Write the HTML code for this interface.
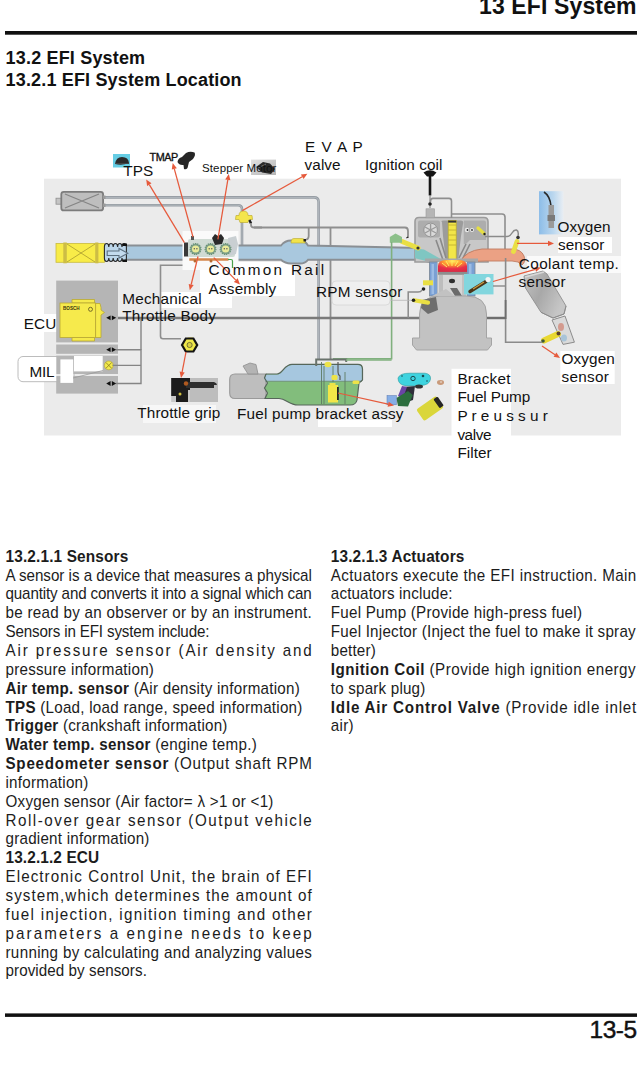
<!DOCTYPE html>
<html><head><meta charset="utf-8"><style>
html,body{margin:0;padding:0;background:#fff;width:642px;height:1078px;overflow:hidden}
svg{display:block}
text{font-family:"Liberation Sans",sans-serif}
</style></head><body>
<svg width="642" height="1078" viewBox="0 0 642 1078">
<rect width="642" height="1078" fill="#fff"/>
<text x="479" y="13.8" font-size="23" font-weight="bold" fill="#111" textLength="157.5" lengthAdjust="spacing">13 EFI System</text>
<rect x="5" y="31" width="632" height="3.7" fill="#111"/>
<text x="5.6" y="64.3" font-size="18" font-weight="bold" fill="#111" textLength="139.5" lengthAdjust="spacing">13.2 EFI System</text>
<text x="5.6" y="85.6" font-size="18" font-weight="bold" fill="#111" textLength="236" lengthAdjust="spacing">13.2.1 EFI System Location</text>
<!-- diagram background -->
<rect x="44" y="178.7" width="577" height="256.8" fill="#ebebeb"/>
<!-- white label patches -->
<rect x="10" y="314" width="50" height="18" fill="#fff"/>
<rect x="451.5" y="368.8" width="59.5" height="70" fill="#fff"/>
<rect x="560.3" y="351" width="54.4" height="33" fill="#fff"/>
<rect x="558" y="237" width="54" height="16" fill="#fff"/>
<rect x="527" y="256" width="94" height="17" fill="#fafafa"/>
<rect x="200" y="262" width="95" height="34" fill="#fff"/>
<rect x="160" y="292" width="72" height="16" fill="#fff"/>
<rect x="143" y="405" width="73" height="18" fill="#f7f7f7"/>
<rect x="318" y="420" width="74" height="7" fill="#fff"/>

<!-- pipes (gray tubes) -->
<g fill="none" stroke-linejoin="round">
  <path d="M104 197.4 H314 Q318.6 197.4 318.6 202 V360" stroke="#959ca3" stroke-width="2.6"/>
  <path d="M104 205.2 H238 Q242 205.2 242 209 V246" stroke="#959ca3" stroke-width="2.6"/>
  <path d="M104 197.4 H314 Q318.6 197.4 318.6 202 V360" stroke="#b9bfc4" stroke-width="0.8"/>
  <path d="M104 205.2 H238 Q242 205.2 242 209 V246" stroke="#b9bfc4" stroke-width="0.8"/>
</g>
<g fill="none" stroke="#8f8f8f" stroke-width="1.8">
  <path d="M254 227.5 H405 Q408 227.5 408 231 V238"/>
  <path d="M308.7 227.5 V236 Q308.7 240 304 240"/>
  <path d="M330.5 227.5 V360"/>
</g>
<!-- canister -->
<rect x="56" y="198.2" width="5.5" height="6" fill="#c4c4c4" stroke="#909090" stroke-width="0.8"/>
<rect x="61.3" y="191.8" width="41.8" height="18.6" rx="2.5" fill="#bebebe" stroke="#7c7c7c" stroke-width="1.8"/>
<path d="M65 194 L99 208 M65 208 L99 194" stroke="#858585" stroke-width="1.3"/>
<rect x="103" y="195.5" width="2.5" height="3.5" fill="#9a9a9a"/>
<rect x="103" y="203.5" width="2.5" height="3.5" fill="#9a9a9a"/>

<!-- intake pipe -->
<path d="M120 245.5 H281 Q285 240.5 291 240.5 H300 Q305 240.5 308 245.5 L420 248 L446 262 L430 262 L420 259.8 L308 259.8 Q305 263.5 300 263.5 H291 Q285 263.5 281 259.8 H120 Z" fill="#a9c8de" stroke="#8a8f94" stroke-width="1.9"/>
<!-- air filter -->
<rect x="56" y="243.4" width="48.4" height="18.9" fill="#f8ec48" stroke="#c8bb40" stroke-width="0.8"/>
<rect x="63.3" y="242.5" width="3.5" height="20.8" fill="#cdbd45"/>
<rect x="95.2" y="242.5" width="3.2" height="20.8" fill="#cdbd45"/>
<path d="M67 244 L95 262 M67 262 L95 244" stroke="#a89a30" stroke-width="0.8"/>
<!-- bellows -->
<path d="M104.4 247 c0 -4.6 4.4 -4.6 4.4 0 c0 -4.6 4.4 -4.6 4.4 0 c0 -4.6 4.4 -4.6 4.4 0 c0 -4.6 4.4 -4.6 4.4 0 c0 -4.6 4.4 -4.6 4.4 0 V258 c0 4.6 -4.4 4.6 -4.4 0 c0 4.6 -4.4 4.6 -4.4 0 c0 4.6 -4.4 4.6 -4.4 0 c0 4.6 -4.4 4.6 -4.4 0 c0 4.6 -4.4 4.6 -4.4 0 Z" fill="#bcd6ea" stroke="#2a2a2a" stroke-width="1.1"/>
<rect x="122.5" y="243.5" width="4.5" height="2.5" fill="#111"/>
<rect x="122.5" y="259.5" width="4.5" height="2.5" fill="#111"/>
<path d="M107.2 251 H119 V248.5 L127.8 253.2 L119 258 V255.5 H107.2 Z" fill="#c3dbee" stroke="#5d7080" stroke-width="1.1"/>

<!-- throttle body assembly -->
<rect x="182.5" y="231" width="56" height="39" fill="#fafafa"/>
<rect x="184" y="242.5" width="4.5" height="14" fill="#3a3a3a"/>
<rect x="188" y="239" width="47" height="18" rx="2" fill="#d0dbd4"/>
<path d="M228 238 L236 236 L238 244 L236 254 L229 256 Z" fill="#c9cfd2"/>
<g fill="#7c9e88" stroke="#6a9478" stroke-width="1.2" stroke-dasharray="1.2 1">
<circle cx="195.6" cy="249" r="5.4"/><circle cx="210.5" cy="249" r="5.4"/><circle cx="225.6" cy="249" r="5.4"/>
</g>
<g fill="#e9eb98">
<circle cx="195.6" cy="249" r="3.6"/><circle cx="210.5" cy="249" r="3.6"/><circle cx="225.6" cy="249" r="3.6"/>
</g>
<g fill="#555">
<circle cx="194.3" cy="248.7" r="0.7"/><circle cx="196.9" cy="248.7" r="0.7"/>
<circle cx="209.2" cy="248.7" r="0.7"/><circle cx="211.8" cy="248.7" r="0.7"/>
<circle cx="224.3" cy="248.7" r="0.7"/><circle cx="226.9" cy="248.7" r="0.7"/>
</g>
<path d="M212 238 L215 234 L218 236 L221 234 L224 238 L222 244 L215 245 Z" fill="#2a2a2a"/>
<rect x="191" y="236" width="3" height="4" fill="#555"/>
<path d="M189.3 258.2 H228.5 V260.8 H189.3 Z" fill="#d4874c"/>
<circle cx="195" cy="261" r="1.5" fill="#b86a30"/><circle cx="211" cy="261" r="1.5" fill="#b86a30"/>
<path d="M228 259.5 H231 Q232.5 259.5 232.5 261 V268" stroke="#4aa04a" stroke-width="1.2" fill="none"/>

<!-- EVAP valve -->
<path d="M239 215.5 Q239 211 243.5 211 Q248 211 248 215.5 H252 L252.5 219.5 H249 L248 222.5 H240 L239 219.5 H235.5 L236 215.5 Z" fill="#f4e54c" stroke="#bfae34" stroke-width="0.7"/>
<path d="M249.5 220 L251 223.5" stroke="#1e1e1e" stroke-width="2.4"/><path d="M251 223 V225 Q251 227.5 254 227.5 H262" stroke="#8f8f8f" stroke-width="1.8" fill="none"/>
<!-- rail injector -->
<path d="M291 243 Q291 238.5 294 238.5 H302 Q305 238.5 305 241 V243 Z" fill="#f1e34a" stroke="#b9a930" stroke-width="0.6"/><rect x="303.5" y="239" width="2.5" height="2.5" fill="#222"/>

<!-- cylinder head -->
<path d="M419 217.5 Q415 217.5 415 221.5 V262 H488 V221.5 Q488 217.5 484 217.5 Z" fill="#c8c8c8" stroke="#9c9c9c" stroke-width="1.6"/>
<rect x="426" y="208.8" width="8.5" height="9" fill="#b5b5b5" stroke="#9a9a9a" stroke-width="0.6"/>
<path d="M430 171 V195.5" stroke="#151515" stroke-width="2.6"/>
<path d="M423.5 172.5 Q430 168 436.5 172.5 L433 176.5 H427 Z" fill="#151515"/>
<path d="M430 196 V208" stroke="#777" stroke-width="1"/>
<circle cx="430" cy="204" r="1.8" fill="#222"/>
<path d="M430.5 202 V201 Q430.5 198.4 433 198.4 H449 Q451.5 198.4 451.5 201 V218" stroke="#8e8e8e" stroke-width="1.6" fill="none"/>
<path d="M452 214 H502 Q505 214 505 217 V250" stroke="#8e8e8e" stroke-width="1.6" fill="none"/>
<rect x="418" y="220.6" width="22" height="17" rx="2" fill="#adadad"/>
<circle cx="430.6" cy="230" r="6.8" fill="#d9d9d9" stroke="#8c8c8c" stroke-width="0.8"/>
<path d="M430.6 224 V236 M425 227 L436 233 M425 233 L436 227" stroke="#9a9a9a" stroke-width="1.3"/>
<path d="M463.75 220.6 H484 Q486 220.6 486 222.6 V240 H470 L466 244 H463.75 Z" fill="#adadad"/>
<path d="M442 222 Q440 220.6 444 220.6 H447 Q452 222 457 220.6 H461 Q464 220.6 463 224 L461 236 L458 262 H446 L443 236 Z" fill="#9c9c9c"/>
<path d="M440 238 L446 258 M436 240 L443 260 M466 244 L459 258 M470 244 L462 260" stroke="#8a8a8a" stroke-width="1.6"/>
<circle cx="467" cy="230" r="2.2" fill="#e8e8e8"/><circle cx="472" cy="230" r="2" fill="#e8e8e8"/>
<circle cx="467.5" cy="230" r="0.9" fill="#333"/><circle cx="472" cy="230" r="0.9" fill="#333"/>
<path d="M478 228 L484 233.5" stroke="#e6df42" stroke-width="3.2" stroke-linecap="round"/>
<circle cx="484.5" cy="234" r="1.2" fill="#222"/>
<path d="M485 236.5 H507 Q510 236.5 512 233 Q514 229.5 516.5 230 Q519 231 518 236" stroke="#8a8a8a" stroke-width="1.5" fill="none"/>
<rect x="448.2" y="220.6" width="8" height="39" fill="#f2e648" stroke="#b9a92c" stroke-width="0.7"/>
<path d="M448.2 225 H456.2 M448.2 230 H456.2 M448.2 235 H456.2 M448.2 240 H456.2 M448.2 245 H456.2" stroke="#c2b232" stroke-width="0.9"/>
<rect x="448.2" y="220.6" width="8" height="2" fill="#333"/>
<!-- intake channel in head -->
<path d="M415 248.5 L424 249.5 L446 262 H430 L415 258.2 Z" fill="#7fc6c2"/>
<!-- intake injector -->
<path d="M402 241.5 L418 248" stroke="#e9df44" stroke-width="5" stroke-linecap="round"/>
<circle cx="418" cy="248" r="1.6" fill="#333"/>
<path d="M389.8 242.8 V237 L395.5 233.4 L402 237 V242.8 Z" fill="#8cc08a"/>
<path d="M407.5 238 L407 237" stroke="#222" stroke-width="2"/>
<path d="M391.6 242 V358.8 H333" stroke="#80b07e" stroke-width="1.6" fill="none"/>
<!-- exhaust pipe -->
<path d="M460 262 Q466 250.5 482 249 H512 Q521 249 524 256 Q526 262 522 265 Q519 261 512 261 H486 Q476 261 472 262 Z" fill="#eba184" stroke="#c07a60" stroke-width="0.9"/>
<!-- cylinder -->
<rect x="425" y="258.5" width="53" height="3.5" fill="#a8a8a8"/>
<rect x="429.4" y="262" width="8.1" height="34" fill="#7aa0d4" stroke="#7c8794" stroke-width="0.8"/>
<rect x="466.9" y="262" width="8.1" height="34" fill="#7aa0d4" stroke="#7c8794" stroke-width="0.8"/>
<rect x="431.5" y="264" width="2.5" height="30" fill="#9dbce4"/>
<rect x="469" y="264" width="2.5" height="30" fill="#9dbce4"/>
<rect x="437.5" y="262" width="29.4" height="34" fill="#e4e4e4"/>
<defs><radialGradient id="fire" cx="0.5" cy="0.1" r="0.9"><stop offset="0" stop-color="#fff060"/><stop offset="0.35" stop-color="#ff9a30"/><stop offset="0.7" stop-color="#e8304a"/><stop offset="1" stop-color="#d82a44"/></radialGradient></defs>
<path d="M438 271.9 V266 Q438 260 446 260 H459 Q467 260 467 266 V271.9 Z" fill="url(#fire)"/>
<path d="M452 260 V266 M446 261 L449 266 M458 261 L455 266 M442 263 L447 267 M462 263 L457 267" stroke="#ffe860" stroke-width="1"/>
<rect x="438" y="271.9" width="29" height="3" fill="#8e8e8e"/>
<rect x="438" y="274.9" width="29" height="21" fill="#d6d6d6"/>
<rect x="439" y="275" width="4" height="21" fill="#bdbdbd"/>
<rect x="462" y="275" width="4" height="21" fill="#c2c2c2"/>
<ellipse cx="452" cy="281" rx="3" ry="2.2" fill="#2e2e2e"/>
<path d="M450 288 L455 296 H462 L457 288 Z" fill="#6a6a6a"/>
<path d="M116 318 H505" stroke="#7a7a7a" stroke-width="2.6"/>
<!-- crankcase -->
<path d="M419.6 338 V314 Q419.6 296 440 296 H466 Q486.5 296 486.5 314 V338 H491.5 V345 L487.5 350 H416.5 L412.5 345 V338 Z" fill="#c2c2c2" stroke="#a4a4a4" stroke-width="1"/>
<path d="M432 296 L446 289 L455 296 Z" fill="#c2c2c2"/>
<!-- coolant sensor photo -->
<rect x="464" y="274" width="29.5" height="20.4" fill="#82d6de"/>
<path d="M470 291.5 L486 281.5" stroke="#4a3418" stroke-width="3.4" stroke-linecap="round"/>
<path d="M473 289 L484 282" stroke="#c89a40" stroke-width="1.4"/>
<circle cx="488" cy="279.5" r="2.6" fill="#f4f4f4"/>
<!-- RPM sensors -->
<path d="M423 282.8 H433" stroke="#e9df44" stroke-width="5"/>
<circle cx="423.5" cy="289" r="1.8" fill="#222"/>
<path d="M422 290 Q421 292.1 418 292.1 H408.2 V318" stroke="#8a8a8a" stroke-width="1.5" fill="none"/>
<path d="M390 300.3 H413" stroke="#b5b5b5" stroke-width="0.8"/>
<path d="M422 300 L436 297 L438 310 L428 314 L421 308 Z" fill="#6e6e6e"/>
<path d="M414 300.3 L428 302.6" stroke="#e9df44" stroke-width="4.2" stroke-linecap="round"/>
<circle cx="413.5" cy="300.3" r="1.8" fill="#222"/>
<rect x="332" y="281" width="58" height="24" rx="4" fill="#efefef" stroke="#d6d6d6" stroke-width="0.8"/>
<!-- catalytic converter -->
<defs>
<linearGradient id="cat" x1="0" y1="0" x2="1" y2="0.5"><stop offset="0" stop-color="#c4c4c4"/><stop offset="0.5" stop-color="#a8a8a8"/><stop offset="1" stop-color="#c6c6c6"/></linearGradient>
<linearGradient id="o2" x1="0" y1="0" x2="1" y2="0"><stop offset="0" stop-color="#8dbde8"/><stop offset="0.6" stop-color="#bcd8ef"/><stop offset="1" stop-color="#e9eef3"/></linearGradient>
</defs>
<path d="M524 276 L543 271 L547 274 L566 306 L564 314 L553 318 L541 312.3 L525.5 288 Z" fill="url(#cat)" stroke="#8e8e8e" stroke-width="0.9"/>
<path d="M541 312.3 L553 318 L564 314 L566 306" fill="none" stroke="#8a8a8a" stroke-width="0.9"/>
<path d="M525 277 L544 272" stroke="#d8d8d8" stroke-width="1.5"/>
<path d="M552 320 L565 316 L574.4 342.2 L563 344.4 Z" fill="#dadada" stroke="#8c8c8c" stroke-width="1"/>
<ellipse cx="561" cy="327" rx="3" ry="4" fill="#d39a8e"/>
<ellipse cx="564" cy="338" rx="3" ry="3.5" fill="#a8c4d8"/>
<path d="M544 340.5 L558 334" stroke="#e9d832" stroke-width="6" stroke-linecap="round"/>
<circle cx="543" cy="341" r="1.8" fill="#3c5a3c"/>
<circle cx="558.5" cy="333.5" r="2" fill="#5a4030"/>
<path d="M505.6 258 V342.2 H542" stroke="#8a8a8a" stroke-width="1.6" fill="none"/><path d="M493 286 H505.6" stroke="#8a8a8a" stroke-width="1.4"/>
<!-- upper oxygen sensor -->
<path d="M517 241.5 L513.5 251.5" stroke="#e9df44" stroke-width="4.8" stroke-linecap="round"/>
<circle cx="518" cy="237.5" r="1.8" fill="#333"/>
<!-- oxygen photo -->
<rect x="539" y="191.2" width="24.5" height="43.2" fill="url(#o2)"/>
<path d="M544 192 Q550 196 551 206" stroke="#2a2a2a" stroke-width="1.6" fill="none"/>
<rect x="548.5" y="205" width="5.5" height="23" fill="#9a9a9a"/>
<rect x="547.5" y="215" width="7.5" height="6" fill="#7a7a7a"/>

<!-- ECU column -->
<rect x="56.2" y="280.6" width="61.8" height="61.8" fill="#b5b5b5"/>
<rect x="56.2" y="344.5" width="61.8" height="9.3" fill="#b5b5b5"/>
<rect x="56.2" y="355.6" width="61.8" height="18.4" fill="#b5b5b5"/>
<rect x="56.2" y="376" width="61.8" height="17.6" fill="#b5b5b5"/>
<g fill="#f6ea4c" stroke="#b9a832" stroke-width="0.8">
<path d="M72 299.5 H94.5 V303 H72 Z"/>
<path d="M72 337.5 H94.5 V341 H72 Z"/>
<path d="M95.6 303.5 H100 L101 307.5 V310 L104.5 312.5 L101 315 V337.5 H95.6 Z"/>
<rect x="60" y="303" width="35.6" height="34.5"/>
</g>
<text x="63" y="310.3" font-size="4.6" font-weight="bold" fill="#3a3510">BOSCH</text>
<circle cx="90.5" cy="309.3" r="2" fill="none" stroke="#5a5020" stroke-width="0.8"/>
<g fill="#111">
<path d="M106.2 317.8 L110.6 315.4 V320.2 Z M116.2 317.8 L111.8 315.4 V320.2 Z"/>
<path d="M106.2 349.7 L110.6 347.3 V352.1 Z M116.2 349.7 L111.8 347.3 V352.1 Z"/>
<path d="M106.2 383.5 L110.6 381.1 V385.9 Z M116.2 383.5 L111.8 381.1 V385.9 Z"/>
</g>
<!-- MIL -->
<path d="M56.2 356.5 H23 Q18 356.5 18 361.5 V376.7 Q18 381.7 23 381.7 H56.2 Z" fill="#fff"/><rect x="18" y="356.5" width="56" height="25.2" rx="5" fill="none" stroke="#b4b4b4" stroke-width="0.9"/>
<rect x="60.4" y="359.4" width="12.8" height="23.5" fill="#fff"/>
<rect x="74" y="356" width="28.7" height="15.4" fill="#fff"/>
<path d="M73 378 L103 370.5" stroke="#9a9a9a" stroke-width="0.8"/>
<circle cx="108.8" cy="365.4" r="4.4" fill="#f2ea4c" stroke="#b5a530" stroke-width="0.6"/><path d="M105.9 362.5 L111.7 368.3 M111.7 362.5 L105.9 368.3" stroke="#8a7a20" stroke-width="0.8"/>
<!-- ECU lines -->

<path d="M116 349.7 H141 V383.5 H116 M112.5 365.4 H141" stroke="#858585" stroke-width="1.4" fill="none"/>
<path d="M141 349.7 V318" stroke="#858585" stroke-width="1.4"/>
<path d="M182.5 265.2 H160.5 V336 Q160.5 338.7 163 338.7 H181" stroke="#8e8e8e" stroke-width="1.6" fill="none"/>
<path d="M487 318 H505.6 V300" stroke="#6e6e6e" stroke-width="1.8" fill="none"/>

<!-- hex TPS -->
<path d="M181.5 339.5 H186 L188 337.5 H193 V339.5" fill="#e9e448"/>
<path d="M182 345 L185.8 338.5 H193.4 L197.2 345 L193.4 351.5 H185.8 Z" fill="#efe84a" stroke="#141414" stroke-width="2.2"/>
<circle cx="189.6" cy="345" r="2.6" fill="#d8d040" stroke="#333" stroke-width="0.6"/>
<!-- throttle grip -->
<rect x="171.2" y="378" width="46.8" height="24" fill="#c8c8c8"/>
<rect x="190" y="378" width="28" height="24" fill="#bdbdbd"/>
<path d="M171.2 378 H190 V390 H188 V402 H176 V396 H171.2 Z" fill="#1c1c1c"/>
<path d="M186 382 H214 Q217 383 217 385 H214 V388 H186 Z" fill="#2e2e2e"/>
<circle cx="186" cy="383.5" r="2.2" fill="#b05a20"/>
<circle cx="180" cy="394" r="1.5" fill="#d0c040"/>

<!-- fuel tank -->
<path d="M235 374 H266 V398.5 H235 Q229.7 398.5 229.7 393 V379.5 Q229.7 374 235 374 Z" fill="#bebebe" stroke="#9a9a9a" stroke-width="1.1"/>
<path d="M243 366 L250 363 L256 364.5 L258 374 H248 Z" fill="#b4b4b4" stroke="#8e8e8e" stroke-width="0.8"/>
<path d="M266 374 H277 C283 374 284 364.4 292 364.4 H358 Q362.5 364.4 362.5 369 V380 L359 383 L357 400 Q356 405 350 405 H298 C289 405 286 398.5 279 398.5 H265 L267.5 393 L264.5 388 L267.5 383 L264.5 378 Z" fill="#82bd7c"/>
<path d="M266.3 374.6 H277 C283 374.6 284 365 292 365 H358 Q361.9 365 361.9 369 V381.25 H265.5 L264.5 378 Z" fill="#a6c7df"/>
<path d="M265.5 381.25 H362" stroke="#6c8a70" stroke-width="0.8"/>
<path d="M266 374 H277 C283 374 284 364.4 292 364.4 H358 Q362.5 364.4 362.5 369 V380 L359 383 L357 400 Q356 405 350 405 H298 C289 405 286 398.5 279 398.5 H265 L267.5 393 L264.5 388 L267.5 383 L264.5 378 L266 374" fill="none" stroke="#56665a" stroke-width="1.2"/>
<path d="M316.2 366 V359.6 H346.2 V362" stroke="#6a736c" stroke-width="2" fill="none"/>
<path d="M346 360 H391.6" stroke="#80b07e" stroke-width="1.6"/>
<path d="M321.5 362 V404 M324 366 V404 M333 366 V382 M345 372 V404" stroke="#5e7a62" stroke-width="0.9" fill="none"/>
<path d="M338 362 V372 Q338 375 340 376 V380" stroke="#555" stroke-width="1.2" fill="none"/>
<ellipse cx="328" cy="364.5" rx="3.5" ry="2.8" fill="#ede348"/>
<rect x="331.5" y="375" width="6" height="5" rx="1.5" fill="#ede348"/>
<rect x="352.5" y="380.5" width="7" height="3.5" rx="1.5" fill="#ede348"/>
<rect x="328" y="385" width="10" height="17.5" fill="#f2e648"/>
<rect x="329.5" y="383" width="6" height="3" fill="#ede348"/>
<rect x="337" y="387" width="1.8" height="13" fill="#222"/>
<!-- bracket parts -->
<path d="M403 387 L415 386 L413 400 L404 403 Z" fill="#2e2e3a"/>
<path d="M398 396 L402 386 L407 387 L403 398 Z" fill="#6a44a6"/>
<path d="M396.4 398 L408 391 L412.7 395 L408 406.4 L398 406 Z" fill="#2c6e3e"/>
<rect x="387" y="395.5" width="9.4" height="9.3" fill="#86aee6" stroke="#5a78b0" stroke-width="0.5"/>
<path d="M398 378 Q400 373 410 373.2 H425 Q431 374 430.5 379 Q430 385 420 385.7 H406 Q398 385 398 378 Z" fill="#3ed3df" stroke="#2a9aa0" stroke-width="0.6"/>
<circle cx="413" cy="378.5" r="2.2" fill="none" stroke="#1a4a50" stroke-width="1"/>
<circle cx="423" cy="376" r="1.3" fill="#1a4a50"/>
<circle cx="402" cy="376" r="0.8" fill="#1a4a50"/><circle cx="427" cy="381" r="0.8" fill="#1a4a50"/>
<ellipse cx="419" cy="386.5" rx="4" ry="2" fill="#333"/>
<ellipse cx="440.5" cy="382.5" rx="3.5" ry="2.4" fill="#c99a7a"/>
<ellipse cx="441" cy="382" rx="1.2" ry="0.7" fill="#e8d8c8"/>
<g transform="rotate(-35 430 408.5)"><rect x="418" y="401.5" width="24" height="14" rx="2" fill="#dad63a"/><rect x="438" y="403" width="5" height="11" rx="1" fill="#262626"/></g>

<!-- arrows -->
<g stroke="#e65a3c" stroke-width="1.25" fill="none">
<path d="M184.4 242.6 L149.3 184.6"/>
<path d="M193.0 237.0 L174.3 168.9"/>
<path d="M217.9 239.4 L227.8 179.9"/>
<path d="M242.3 210.6 L302.2 176.7"/>
<path d="M213.8 257.6 L235.8 280.1"/>
<path d="M198.0 256.5 L191.2 284.5"/>
<path d="M186.0 352.0 L182.1 372.1"/>
<path d="M338.0 393.0 L388.1 404.2"/>
<path d="M517.0 243.4 L548.0 243.4"/>
<path d="M493.0 281.5 L535.3 269.3"/>
<path d="M542.0 346.0 L555.0 354.7"/>
</g>
<g fill="#e65a3c">
<path d="M146.2 179.5 L151.5 183.3 L147.1 186.0 Z"/>
<path d="M172.7 163.1 L176.8 168.2 L171.8 169.6 Z"/>
<path d="M228.8 174.0 L230.4 180.3 L225.2 179.5 Z"/>
<path d="M307.4 173.7 L303.5 178.9 L300.9 174.4 Z"/>
<path d="M240.0 284.4 L233.9 281.9 L237.7 278.3 Z"/>
<path d="M189.8 290.3 L188.7 283.9 L193.7 285.1 Z"/>
<path d="M181.0 378.0 L179.6 371.6 L184.7 372.6 Z"/>
<path d="M394.0 405.5 L387.6 406.7 L388.7 401.7 Z"/>
<path d="M554.0 243.4 L548.0 246.0 L548.0 240.8 Z"/>
<path d="M541.0 267.5 L536.1 271.8 L534.5 266.9 Z"/>
<path d="M560.0 358.0 L553.6 356.8 L556.4 352.5 Z"/>
</g>

<!-- top icons -->
<rect x="113" y="154" width="17" height="13.5" fill="#66cde4"/>
<path d="M115 164 Q116 157 122 157 Q128.5 157 129 163 Q122 166 115 164 Z" fill="#2a2a2a"/>
<path d="M115 163.5 H129" stroke="#444" stroke-width="1"/>
<path d="M177.5 162 Q178 158 182 157 L186 153 Q190 151 194.5 152.5 Q196 155 193 159 L189 162 L187.5 168 Q186 170 184 169 L183.5 165 Q179 165.5 177.5 162 Z" fill="#262626"/>
<defs><linearGradient id="stp" x1="0" y1="0" x2="1" y2="1"><stop offset="0" stop-color="#e2e2e2"/><stop offset="1" stop-color="#b4b4b4"/></linearGradient></defs>
<rect x="251" y="159.6" width="25" height="15.4" fill="url(#stp)"/>
<path d="M256 167 L263 162 L270 163.5 L275 169 L271 174 L262 172.5 Z" fill="#2a2a2a"/><path d="M258 168 L266 164" stroke="#777" stroke-width="1"/>

<!-- labels -->
<g fill="#111" font-size="15.3">
  <text x="123.3" y="176.2" textLength="30" lengthAdjust="spacing">TPS</text>
  <text x="149.5" y="160.6" font-size="10.8" stroke="#111" stroke-width="0.35" textLength="28.8" lengthAdjust="spacing">TMAP</text>
  <text x="202" y="172.4" font-size="11.5" textLength="74.4" lengthAdjust="spacing">Stepper Motor</text>
  <text x="305" y="151.6" textLength="57.8" lengthAdjust="spacing">E V A P</text>
  <text x="304.6" y="170.4" textLength="36" lengthAdjust="spacing">valve</text>
  <text x="365" y="169.9" textLength="77.4" lengthAdjust="spacing">Ignition coil</text>
  <text x="557.5" y="231.7" textLength="53" lengthAdjust="spacing">Oxygen</text>
  <text x="558" y="250" textLength="46.4" lengthAdjust="spacing">sensor</text>
  <text x="518.8" y="268.6" textLength="100" lengthAdjust="spacing">Coolant temp.</text>
  <text x="518.6" y="287.4" textLength="47" lengthAdjust="spacing">sensor</text>
  <text x="208.6" y="274.8" textLength="115.6" lengthAdjust="spacing">Common Rail</text>
  <text x="208.6" y="293.5" textLength="67.6" lengthAdjust="spacing">Assembly</text>
  <text x="316" y="297" textLength="86.3" lengthAdjust="spacing">RPM sensor</text>
  <text x="122.3" y="304.3" textLength="79.3" lengthAdjust="spacing">Mechanical</text>
  <text x="122.3" y="321.4" textLength="93.6" lengthAdjust="spacing">Throttle Body</text>
  <text x="23.8" y="329.3" textLength="32.4" lengthAdjust="spacing">ECU</text>
  <text x="29.5" y="377.4" textLength="25" lengthAdjust="spacing">MIL</text>
  <text x="137.3" y="418.1" textLength="83" lengthAdjust="spacing">Throttle grip</text>
  <text x="237" y="418.7" textLength="166.5" lengthAdjust="spacing">Fuel pump bracket assy</text>
  <text x="457.4" y="383.5" textLength="53" lengthAdjust="spacing">Bracket</text>
  <text x="457.4" y="402.3" textLength="72.8" lengthAdjust="spacing">Fuel Pump</text>
  <text x="457.4" y="421.2" textLength="90.4" lengthAdjust="spacing">P r e u s s u r</text>
  <text x="457.4" y="439.5" textLength="34" lengthAdjust="spacing">valve</text>
  <text x="457.4" y="458.3" textLength="34.2" lengthAdjust="spacing">Filter</text>
  <text x="561.5" y="363.8" textLength="53.3" lengthAdjust="spacing">Oxygen</text>
  <text x="561.6" y="382.1" textLength="47.2" lengthAdjust="spacing">sensor</text>
</g>

<g fill="#1c1c1c">
<text transform="translate(5.50 561.70) scale(0.95 1)" x="0" y="0" font-size="16.20" textLength="129.3" lengthAdjust="spacing"><tspan font-weight="bold">13.2.1.1 Sensors</tspan></text>
<text transform="translate(5.50 580.55) scale(0.95 1)" x="0" y="0" font-size="15.99" textLength="322.4" lengthAdjust="spacing">A sensor is a device that measures a physical</text>
<text transform="translate(5.50 599.40) scale(0.95 1)" x="0" y="0" font-size="15.99" textLength="322.4" lengthAdjust="spacing">quantity and converts it into a signal which can</text>
<text transform="translate(5.50 618.25) scale(0.95 1)" x="0" y="0" font-size="15.99" textLength="322.4" lengthAdjust="spacing">be read by an observer or by an instrument.</text>
<text transform="translate(5.50 637.10) scale(0.95 1)" x="0" y="0" font-size="15.99" textLength="214.7" lengthAdjust="spacing">Sensors in EFI system include:</text>
<text transform="translate(5.50 655.95) scale(0.95 1)" x="0" y="0" font-size="15.99" textLength="322.4" lengthAdjust="spacing">Air pressure sensor (Air density and</text>
<text transform="translate(5.50 674.80) scale(0.95 1)" x="0" y="0" font-size="15.99" textLength="156.2" lengthAdjust="spacing">pressure information)</text>
<text transform="translate(5.50 693.65) scale(0.95 1)" x="0" y="0" font-size="15.99" textLength="309.8" lengthAdjust="spacing"><tspan font-weight="bold">Air temp. sensor</tspan> (Air density information)</text>
<text transform="translate(5.50 712.50) scale(0.95 1)" x="0" y="0" font-size="15.99" textLength="312.5" lengthAdjust="spacing"><tspan font-weight="bold">TPS</tspan> (Load, load range, speed information)</text>
<text transform="translate(5.50 731.35) scale(0.95 1)" x="0" y="0" font-size="15.99" textLength="233.6" lengthAdjust="spacing"><tspan font-weight="bold">Trigger</tspan> (crankshaft information)</text>
<text transform="translate(5.50 750.20) scale(0.95 1)" x="0" y="0" font-size="15.99" textLength="264.5" lengthAdjust="spacing"><tspan font-weight="bold">Water temp. sensor</tspan> (engine temp.)</text>
<text transform="translate(5.50 769.05) scale(0.95 1)" x="0" y="0" font-size="15.99" textLength="322.4" lengthAdjust="spacing"><tspan font-weight="bold">Speedometer sensor</tspan> (Output shaft RPM</text>
<text transform="translate(5.50 787.90) scale(0.95 1)" x="0" y="0" font-size="15.99" textLength="87.2" lengthAdjust="spacing">information)</text>
<text transform="translate(5.50 806.75) scale(0.95 1)" x="0" y="0" font-size="15.99" textLength="282.0" lengthAdjust="spacing">Oxygen sensor (Air factor= λ &gt;1 or &lt;1)</text>
<text transform="translate(5.50 825.60) scale(0.95 1)" x="0" y="0" font-size="15.99" textLength="322.4" lengthAdjust="spacing">Roll-over gear sensor (Output vehicle</text>
<text transform="translate(5.50 844.45) scale(0.95 1)" x="0" y="0" font-size="15.99" textLength="151.5" lengthAdjust="spacing">gradient information)</text>
<text transform="translate(5.50 863.30) scale(0.95 1)" x="0" y="0" font-size="16.20" textLength="98.6" lengthAdjust="spacing"><tspan font-weight="bold">13.2.1.2 ECU</tspan></text>
<text transform="translate(5.50 882.15) scale(0.95 1)" x="0" y="0" font-size="15.99" textLength="322.4" lengthAdjust="spacing">Electronic Control Unit, the brain of EFI</text>
<text transform="translate(5.50 901.00) scale(0.95 1)" x="0" y="0" font-size="15.99" textLength="322.4" lengthAdjust="spacing">system,which determines the amount of</text>
<text transform="translate(5.50 919.85) scale(0.95 1)" x="0" y="0" font-size="15.99" textLength="322.4" lengthAdjust="spacing">fuel injection, ignition timing and other</text>
<text transform="translate(5.50 938.70) scale(0.95 1)" x="0" y="0" font-size="15.99" textLength="322.4" lengthAdjust="spacing">parameters a engine needs to keep</text>
<text transform="translate(5.50 957.55) scale(0.95 1)" x="0" y="0" font-size="15.99" textLength="322.4" lengthAdjust="spacing">running by calculating and analyzing values</text>
<text transform="translate(5.50 976.40) scale(0.95 1)" x="0" y="0" font-size="15.99" textLength="148.8" lengthAdjust="spacing">provided by sensors.</text>
<text transform="translate(330.80 561.70) scale(0.95 1)" x="0" y="0" font-size="16.20" textLength="140.6" lengthAdjust="spacing"><tspan font-weight="bold">13.2.1.3 Actuators</tspan></text>
<text transform="translate(330.80 580.55) scale(0.95 1)" x="0" y="0" font-size="15.99" textLength="321.6" lengthAdjust="spacing">Actuators execute the EFI instruction. Main</text>
<text transform="translate(330.80 599.40) scale(0.95 1)" x="0" y="0" font-size="15.99" textLength="128.1" lengthAdjust="spacing">actuators include:</text>
<text transform="translate(330.80 618.25) scale(0.95 1)" x="0" y="0" font-size="15.99" textLength="264.4" lengthAdjust="spacing">Fuel Pump (Provide high-press fuel)</text>
<text transform="translate(330.80 637.10) scale(0.95 1)" x="0" y="0" font-size="15.99" textLength="320.9" lengthAdjust="spacing">Fuel Injector (Inject the fuel to make it spray</text>
<text transform="translate(330.80 655.95) scale(0.95 1)" x="0" y="0" font-size="15.99" textLength="47.4" lengthAdjust="spacing">better)</text>
<text transform="translate(330.80 674.80) scale(0.95 1)" x="0" y="0" font-size="15.99" textLength="320.9" lengthAdjust="spacing"><tspan font-weight="bold">Ignition Coil</tspan> (Provide high ignition energy</text>
<text transform="translate(330.80 693.65) scale(0.95 1)" x="0" y="0" font-size="15.99" textLength="99.5" lengthAdjust="spacing">to spark plug)</text>
<text transform="translate(330.80 712.50) scale(0.95 1)" x="0" y="0" font-size="15.99" textLength="321.6" lengthAdjust="spacing"><tspan font-weight="bold">Idle Air Control Valve</tspan> (Provide idle inlet</text>
<text transform="translate(330.80 731.35) scale(0.95 1)" x="0" y="0" font-size="15.99" textLength="24.0" lengthAdjust="spacing">air)</text>
</g>
<rect x="5" y="1013.4" width="632" height="3.5" fill="#111"/>
<text x="589.6" y="1037.8" font-size="24.5" fill="#111" stroke="#111" stroke-width="0.45" textLength="47.5" lengthAdjust="spacing">13-5</text>
</svg>
</body></html>
